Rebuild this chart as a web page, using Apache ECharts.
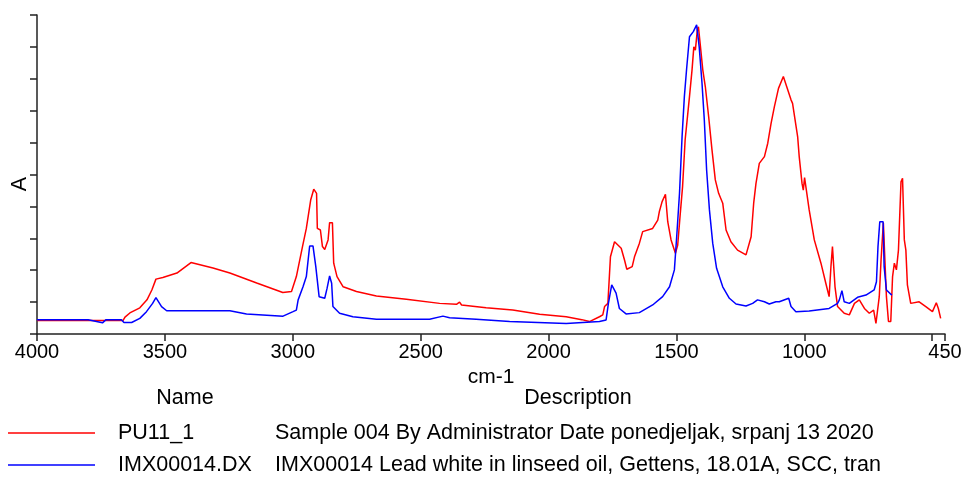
<!DOCTYPE html>
<html>
<head>
<meta charset="utf-8">
<script src="https://cdn.jsdelivr.net/npm/echarts@6/dist/echarts.min.js"></script>
<style>
  html, body { margin: 0; padding: 0; background: #ffffff; }
  #chart { width: 965px; height: 477px; }
</style>
</head>
<body>
<div id="chart"></div>
<script>
// Wavenumber axis (cm-1), drawn high to low
const xTicks = [4000, 3500, 3000, 2500, 2000, 1500, 1000, 500, 450];
const xLabels = [4000, 3500, 3000, 2500, 2000, 1500, 1000, 450];

// Legend rows
const seriesNames = ['PU11_1', 'IMX00014.DX'];
const seriesDescriptions = [
  'Sample 004 By Administrator Date ponedjeljak, srpanj 13 2020',
  'IMX00014 Lead white in linseed oil, Gettens, 18.01A, SCC, tran'
];
const seriesColors = ['#ff0000', '#0000ff'];

// PU11_1 spectrum: wavenumber / absorbance
const sampleWn = [
  4000, 3900, 3800, 3700, 3664, 3656, 3637, 3598, 3570, 3551, 3535, 3508, 3453, 3398, 3312, 3246,
  3141, 3039, 3005, 2986, 2962, 2947, 2930, 2918, 2907, 2904, 2892, 2884, 2875, 2862, 2856, 2845,
  2840, 2827, 2803, 2751, 2673, 2556, 2426, 2360, 2348, 2340, 2244, 2140, 2035, 1931, 1870, 1840,
  1801, 1788, 1781, 1768, 1758, 1742, 1716, 1703, 1694, 1673, 1664, 1645, 1632, 1593, 1573, 1567,
  1556, 1543, 1534, 1521, 1504, 1495, 1486, 1476, 1466, 1449, 1439, 1432, 1426, 1418, 1414, 1406,
  1397, 1387, 1374, 1361, 1348, 1335, 1319, 1306, 1287, 1261, 1228, 1208, 1198, 1189, 1176, 1156,
  1143, 1130, 1117, 1101, 1082, 1052, 1046, 1026, 1020, 1009, 1004, 999, 994, 981, 961, 935,
  916, 903, 896, 890, 887, 880, 870, 844, 824, 804, 785, 765, 746, 729, 720, 707,
  700, 691, 684, 679, 671, 662, 655, 648, 640, 632, 622, 616, 609, 603, 597, 584,
  551, 525, 499, 484, 476, 467
];
const sampleAbs = [
  0.42, 0.43, 0.42, 0.42, 0.42, 0.53, 0.66, 0.82, 1.07, 1.38, 1.72, 1.77, 1.91, 2.24, 2.07, 1.91,
  1.60, 1.30, 1.33, 1.80, 2.74, 3.31, 4.20, 4.54, 4.41, 3.31, 3.26, 2.74, 2.65, 2.95, 3.49, 3.49,
  2.22, 1.80, 1.48, 1.33, 1.19, 1.09, 0.96, 0.93, 1.00, 0.91, 0.82, 0.75, 0.62, 0.54, 0.45, 0.39,
  0.54, 0.60, 0.86, 0.96, 2.42, 2.89, 2.69, 2.32, 2.03, 2.11, 2.42, 2.84, 3.21, 3.31, 3.57, 3.83,
  4.15, 4.38, 3.52, 2.95, 2.53, 2.79, 3.68, 4.62, 6.08, 7.44, 8.28, 9.00, 8.90, 9.55, 9.63, 9.00,
  8.28, 7.75, 6.81, 5.77, 4.83, 4.41, 4.10, 3.26, 2.89, 2.63, 2.48, 3.05, 4.10, 4.72, 5.35, 5.56,
  5.98, 6.60, 7.13, 7.70, 8.07, 7.34, 7.23, 6.18, 5.56, 4.72, 4.51, 4.90, 4.88, 3.89, 2.95, 2.22,
  1.59, 1.17, 2.11, 2.74, 2.74, 1.48, 0.86, 0.65, 0.60, 0.96, 1.07, 0.80, 0.65, 0.75, 0.33, 1.17,
  2.32, 3.49, 3.49, 1.17, 0.39, 0.39, 1.80, 2.22, 2.01, 2.63, 4.77, 4.88, 2.95, 2.63, 1.54, 0.96,
  1.01, 0.86, 0.70, 0.98, 0.80, 0.49
];

// IMX00014 reference spectrum: wavenumber / absorbance
const refWn = [
  4000, 3800, 3744, 3730, 3670, 3660, 3630, 3598, 3572, 3548, 3535, 3513, 3493, 3246, 3181, 3038,
  2999, 2986, 2979, 2960, 2947, 2934, 2921, 2910, 2897, 2875, 2866, 2856, 2848, 2843, 2817, 2765,
  2673, 2465, 2413, 2387, 2283, 2152, 1931, 1801, 1775, 1766, 1753, 1736, 1723, 1697, 1645, 1593,
  1554, 1527, 1508, 1499, 1488, 1478, 1469, 1460, 1449, 1434, 1421, 1411, 1400, 1391, 1382, 1371,
  1358, 1343, 1319, 1293, 1267, 1228, 1202, 1183, 1156, 1137, 1111, 1098, 1061, 1052, 1033, 981,
  903, 870, 863, 853, 844, 824, 792, 759, 727, 718, 712, 705, 692, 688, 679, 658
];
const refAbs = [
  0.45, 0.45, 0.35, 0.45, 0.45, 0.36, 0.36, 0.49, 0.70, 0.96, 1.14, 0.86, 0.73, 0.73, 0.63, 0.56,
  0.70, 0.75, 1.07, 1.48, 1.80, 2.76, 2.76, 2.11, 1.17, 1.12, 1.43, 1.82, 1.59, 0.86, 0.65, 0.54,
  0.46, 0.46, 0.56, 0.51, 0.46, 0.39, 0.33, 0.39, 0.44, 0.96, 1.54, 1.28, 0.80, 0.63, 0.67, 0.91,
  1.17, 1.48, 2.01, 3.05, 4.41, 6.18, 7.44, 8.33, 9.32, 9.48, 9.69, 9.00, 7.86, 6.71, 5.14, 3.89,
  2.84, 2.06, 1.48, 1.12, 0.94, 0.88, 0.96, 1.07, 1.01, 0.94, 1.01, 1.01, 1.12, 0.86, 0.70, 0.72,
  0.80, 0.96, 1.07, 1.36, 1.01, 0.96, 1.15, 1.22, 1.38, 1.64, 2.74, 3.52, 3.52, 2.11, 1.38, 1.22
];

const zip = (xs, ys) => xs.map((x, i) => [x, ys[i]]);
const spectra = [zip(sampleWn, sampleAbs), zip(refWn, refAbs)];

const FONT = '"Liberation Sans", Arial, sans-serif';
const AXIS_COLOR = '#222';
const LEGEND_FONT = '21.5px ' + FONT;

const legendGraphics = [];
legendGraphics.push(
  { type: 'text', x: 185, y: 398, style: { text: 'Name', font: LEGEND_FONT, fill: '#000', textAlign: 'center', textVerticalAlign: 'middle' } },
  { type: 'text', x: 578, y: 398, style: { text: 'Description', font: LEGEND_FONT, fill: '#000', textAlign: 'center', textVerticalAlign: 'middle' } }
);
const rowY = [433, 465];
seriesNames.forEach((name, i) => {
  legendGraphics.push(
    { type: 'line', shape: { x1: 8, y1: rowY[i], x2: 95, y2: rowY[i] }, style: { stroke: seriesColors[i], lineWidth: 1.5 } },
    { type: 'text', x: 118, y: rowY[i], style: { text: name, font: LEGEND_FONT, fill: '#000', textAlign: 'left', textVerticalAlign: 'middle' } },
    { type: 'text', x: 275, y: rowY[i], style: { text: seriesDescriptions[i], font: LEGEND_FONT, fill: '#000', textAlign: 'left', textVerticalAlign: 'middle' } }
  );
});
legendGraphics.push({
  type: 'text', x: 20, y: 184, rotation: Math.PI / 2,
  style: { text: 'A', font: LEGEND_FONT, fill: '#000', textAlign: 'center', textVerticalAlign: 'middle' }
});

const chart = echarts.init(document.getElementById('chart'), null, { renderer: 'canvas' });
chart.setOption({
  animation: false,
  backgroundColor: '#ffffff',
  grid: { left: 37, right: 20, top: 15, bottom: 143, containLabel: false },
  xAxis: {
    type: 'value',
    inverse: true,
    min: 450,
    max: 4000,
    name: 'cm-1',
    nameLocation: 'middle',
    nameGap: 31,
    nameTextStyle: { fontFamily: FONT, fontSize: 21, color: '#000', verticalAlign: 'top' },
    axisLine: { show: true, lineStyle: { color: AXIS_COLOR, width: 1.5 } },
    axisTick: { show: true, length: 7, customValues: xTicks, lineStyle: { color: AXIS_COLOR, width: 1.5 } },
    axisLabel: {
      show: true, customValues: xLabels, margin: 8,
      fontFamily: FONT, fontSize: 20, color: '#000',
      formatter: (v) => String(v)
    },
    splitLine: { show: false }
  },
  yAxis: {
    type: 'value',
    min: 0,
    max: 10,
    interval: 1,
    axisLine: { show: true, lineStyle: { color: AXIS_COLOR, width: 1.5 } },
    axisTick: { show: true, length: 7, lineStyle: { color: AXIS_COLOR, width: 1.5 } },
    axisLabel: { show: false },
    splitLine: { show: false }
  },
  series: spectra.map((data, i) => ({
    name: seriesNames[i],
    type: 'line',
    data: data,
    showSymbol: false,
    symbol: 'none',
    lineStyle: { color: seriesColors[i], width: 1.5 },
    z: 2 + i
  })),
  graphic: legendGraphics
});
</script>
</body>
</html>
